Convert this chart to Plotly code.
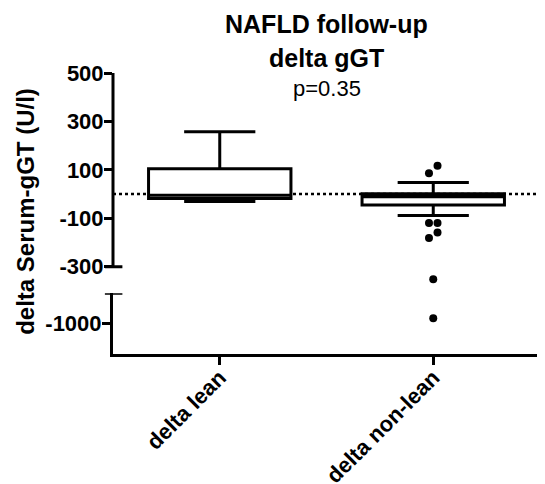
import plotly.graph_objects as go

# ---- data ----
categories = ["delta lean", "delta non-lean"]
q1 = [-18, -45]
median = [-5, -11]
q3 = [104, 1]
lower_whisker = [-31, -89]
upper_whisker = [257, 48]

# outliers of the "delta non-lean" group
outliers_upper = [117, 86, -120, -120, -159, -182, -352]
outliers_lower = [-979]
ref_line_value = 0

upper_ticks = [-300, -100, 100, 300, 500]
lower_ticks = [-1000]
upper_segment = [-300, 500]      # drawn part of the upper axis
upper_range = [-410, 500]        # upper axis range (includes the break gap)
lower_range = [-1127, -876]

title_main = "NAFLD follow-up"
title_sub = "delta gGT"
p_text = "p=0.35"
y_title = "delta Serum-gGT (U/l)"

# ---- style ----
FONT = "Liberation Sans, Arial, sans-serif"
LW = 3
dodge_upper = [0.02, -0.02, -0.02, 0.02, 0.02, -0.02, 0.0]
dodge_lower = [0.0]
# the page body has an 8px default margin, so the figure is 8px smaller
BODY = 8

xpos = list(range(len(categories)))

fig = go.Figure()
fig.add_trace(go.Box(
    x=xpos, q1=q1, median=median, q3=q3,
    lowerfence=lower_whisker, upperfence=upper_whisker,
    width=0.667, whiskerwidth=0.5, boxpoints=False,
    line=dict(color="black", width=LW), fillcolor="white",
    xaxis="x", yaxis="y", showlegend=False, hoverinfo="skip",
))
fig.add_trace(go.Scatter(
    x=[xpos[1] + d for d in dodge_upper], y=outliers_upper,
    mode="markers", marker=dict(color="black", size=8),
    cliponaxis=False, xaxis="x", yaxis="y", showlegend=False,
))
fig.add_trace(go.Scatter(
    x=[xpos[1] + d for d in dodge_lower], y=outliers_lower,
    mode="markers", marker=dict(color="black", size=8),
    cliponaxis=False, xaxis="x", yaxis="y2", showlegend=False,
))

tickfont = dict(family=FONT, size=22, color="black", weight="bold")
tick_common = dict(ticks="outside", ticklen=8, tickwidth=LW, tickcolor="black",
                   showgrid=False, zeroline=False, automargin=False,
                   tickfont=tickfont)

fig.update_layout(
    width=545 - BODY, height=484 - BODY,
    margin=dict(l=113 - BODY, r=5, t=73 - BODY, b=130, autoexpand=False),
    paper_bgcolor="white", plot_bgcolor="white",
    showlegend=False,
    xaxis=dict(
        range=[-0.5, 1.5], tickvals=xpos, ticktext=categories,
        tickangle=-45, ticklabelstandoff=-9,
        showline=True, linecolor="black", linewidth=LW,
        anchor="y2", **tick_common,
    ),
    yaxis=dict(
        domain=[0.216, 1], range=upper_range, tickvals=upper_ticks,
        ticktext=[str(v) for v in upper_ticks], ticklabelstandoff=-4,
        showline=False, anchor="x", **tick_common,
    ),
    yaxis2=dict(
        domain=[0, 0.216], range=lower_range, tickvals=lower_ticks,
        ticktext=[str(v) for v in lower_ticks], ticklabelstandoff=-4,
        showline=True, linecolor="black", linewidth=LW,
        anchor="x", **tick_common,
    ),
)

# upper axis line (only the drawn segment)
fig.add_shape(type="line", xref="paper", x0=0, x1=0, yref="y",
              y0=upper_segment[0], y1=upper_segment[1],
              line=dict(color="black", width=LW))

# reference dotted line at zero
fig.add_shape(type="line", xref="paper", x0=0, x1=1, yref="y",
              y0=ref_line_value, y1=ref_line_value,
              line=dict(color="black", width=2.5, dash="dot"), layer="below")

# break caps at the ends of the two axis segments
fig.add_shape(type="line", xref="paper", x0=-0.019, x1=0.022, yref="y",
              y0=upper_segment[0], y1=upper_segment[0],
              line=dict(color="black", width=LW))
fig.add_shape(type="line", xref="paper", x0=-0.019, x1=0.022, yref="y2",
              y0=lower_range[1], y1=lower_range[1],
              line=dict(color="black", width=LW))

# titles
fig.add_annotation(text=f"<b>{title_main}</b>", xref="paper", yref="paper",
                   x=0.5, y=1.176, showarrow=False, yanchor="middle",
                   font=dict(family=FONT, size=25, color="black"))
fig.add_annotation(text=f"<b>{title_sub}</b>", xref="paper", yref="paper",
                   x=0.5, y=1.052, showarrow=False, yanchor="middle",
                   font=dict(family=FONT, size=25, color="black"))
fig.add_annotation(text=p_text, xref="paper", yref="paper",
                   x=0.5, y=0.945, showarrow=False, yanchor="middle",
                   font=dict(family=FONT, size=22, color="black"))
fig.add_annotation(text=f"<b>{y_title}</b>", xref="paper", yref="paper",
                   x=-0.204, y=0.509, showarrow=False, textangle=-90,
                   xanchor="center", yanchor="middle",
                   font=dict(family=FONT, size=24, color="black"))

fig.write_html("out.html")
